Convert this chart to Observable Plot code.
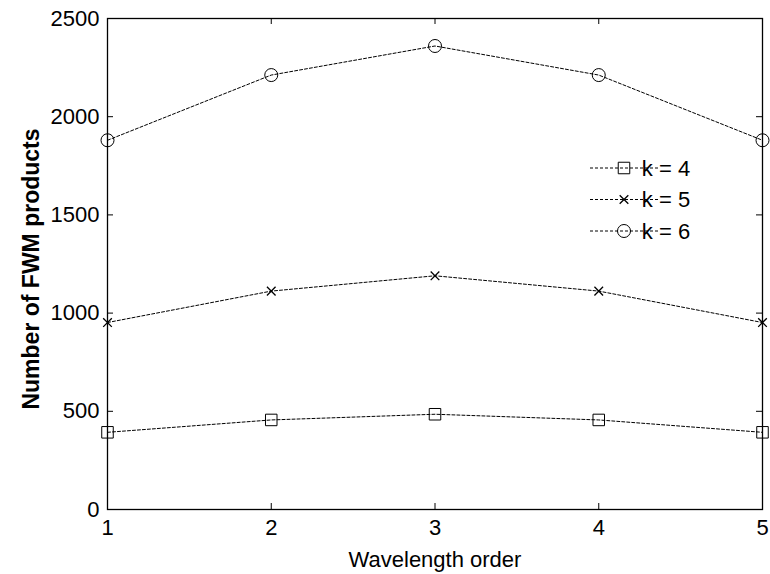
<!DOCTYPE html>
<html>
<head>
<meta charset="utf-8">
<script src="https://cdn.jsdelivr.net/npm/d3@7"></script>
<script src="https://cdn.jsdelivr.net/npm/@observablehq/plot@0.6"></script>
<style>
  html, body { margin: 0; padding: 0; background: #fff; }
  #chart svg { display: block; }
</style>
</head>
<body>
<div id="chart"></div>
<script>
// ---- data ----
const orders = [1, 2, 3, 4, 5];
const seriesNames = ["k = 4", "k = 5", "k = 6"];
const k4 = [393, 456, 485, 456, 393];
const k5 = [952, 1112, 1190, 1112, 952];
const k6 = [1880, 2212, 2360, 2212, 1880];
const symbols = ["square", "times", "circle"];
const xTicks = [1, 2, 3, 4, 5];
const yTicks = [0, 500, 1000, 1500, 2000, 2500];
const xLabel = "Wavelength order";
const yLabel = "Number of FWM products";

const values = [k4, k5, k6];
const data = [];
seriesNames.forEach((s, i) => orders.forEach((o, j) => data.push({series: s, order: o, value: values[i][j], symbol: symbols[i]})));

const W = 770, H = 574;
const mL = 107, mR = 8, mT = 18, mB = 65;
const fw = W - mL - mR, fh = H - mT - mB;
const tl = 6;
const font = "Liberation Sans, Arial, Helvetica, sans-serif";

const plot = Plot.plot({
  width: W,
  height: H,
  marginLeft: mL, marginRight: mR, marginTop: mT, marginBottom: mB,
  style: {fontFamily: font, background: "#fff", color: "#000"},
  x: {domain: [1, 5], label: null},
  y: {domain: [0, 2500], label: null},
  marks: [
    Plot.tickX(xTicks, {x: d => d, insetTop: fh - tl, stroke: "black"}),
    Plot.tickX(xTicks, {x: d => d, insetBottom: fh - tl, stroke: "black"}),
    Plot.tickY(yTicks, {y: d => d, insetRight: fw - tl, stroke: "black"}),
    Plot.tickY(yTicks, {y: d => d, insetLeft: fw - tl, stroke: "black"}),
    Plot.axisX({ticks: xTicks, tickSize: 0, tickPadding: 10, fontSize: 22, label: null, tickFormat: d => String(d)}),
    Plot.axisY({ticks: yTicks, tickSize: 0, tickPadding: 8, fontSize: 22, label: null, tickFormat: d => String(d)}),
    Plot.line(data, {x: "order", y: "value", z: "series", stroke: "black", strokeWidth: 1, strokeDasharray: "3,2"}),
    Plot.dot(data.filter(d => d.symbol === "square"), {x: "order", y: "value", symbol: "square", r: 6.5, stroke: "black", fill: "none", strokeWidth: 1}),
    Plot.dot(data.filter(d => d.symbol === "times"), {x: "order", y: "value", symbol: "times", r: 4, stroke: "black", fill: "none", strokeWidth: 1.3}),
    Plot.dot(data.filter(d => d.symbol === "circle"), {x: "order", y: "value", symbol: "circle", r: 6.5, stroke: "black", fill: "none", strokeWidth: 1}),
    Plot.frame({stroke: "black", strokeWidth: 1.3}),
    Plot.text([xLabel], {frameAnchor: "bottom", dy: 50, textAnchor: "middle", lineAnchor: "middle", text: d => d, fontSize: 22, fill: "black"}),
    Plot.text([yLabel], {frameAnchor: "left", dx: -76, dy: 5, rotate: -90, textAnchor: "middle", lineAnchor: "middle", text: d => d, fontSize: 23, fontWeight: "bold", fill: "black"})
  ]
});

// legend
const svg = d3.select(plot);
const lg = svg.append("g").attr("font-family", font).attr("font-size", 22);
const legendY0 = 168, legendDy = 31.5;
const symGen = {square: d3.symbolSquare, times: d3.symbolTimes, circle: d3.symbolCircle};
const symSize = {square: Math.PI * 6.5 * 6.5, times: Math.PI * 4 * 4, circle: Math.PI * 6.5 * 6.5};
seriesNames.forEach((s, i) => {
  const y = legendY0 + i * legendDy;
  lg.append("line").attr("x1", 590).attr("x2", 658).attr("y1", y).attr("y2", y)
    .attr("stroke", "black").attr("stroke-width", 1).attr("stroke-dasharray", "3,2");
  lg.append("path").attr("d", d3.symbol(symGen[symbols[i]], symSize[symbols[i]])())
    .attr("transform", `translate(624,${y})`).attr("fill", "none").attr("stroke", "black")
    .attr("stroke-width", symbols[i] === "times" ? 1.3 : 1);
  lg.append("text").attr("x", 666).attr("y", y).attr("dy", "0.35em").text(s);
});

document.getElementById("chart").appendChild(plot);
</script>
</body>
</html>
